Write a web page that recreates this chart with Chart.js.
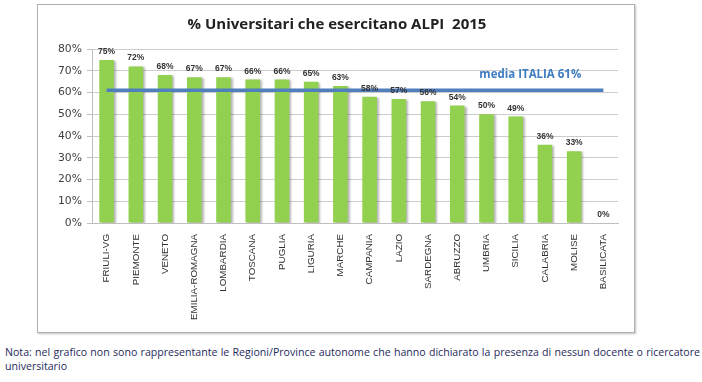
<!DOCTYPE html>
<html>
<head>
<meta charset="utf-8">
<script src="https://cdn.jsdelivr.net/npm/chart.js@4/dist/chart.umd.min.js"></script>
<style>
  html, body { margin:0; padding:0; background:#fff; width:702px; height:382px; overflow:hidden; }
  #frame { position:absolute; left:37px; top:4px; width:596px; height:327px; border:1px solid #b0b0b0; box-shadow:1px 1px 2px rgba(0,0,0,0.25); background:#fff; }
  #frame canvas { display:block; }
  #note { position:absolute; left:5px; top:345px; width:695px; font-family:"Open Sans", "Noto Sans", sans-serif; font-size:10.6px; line-height:14px; color:#1f2a5c; text-align:justify; text-align-last:left; }
</style>
</head>
<body>
<div id="frame"><canvas id="c" width="596" height="327"></canvas></div>
<div id="note">Nota: nel grafico non sono rappresentante le Regioni/Province autonome che hanno dichiarato la presenza di nessun docente o ricercatore universitario</div>
<script>
const chartTitle = "% Universitari che esercitano ALPI  2015";
const regions = ["FRIULI-VG","PIEMONTE","VENETO","EMILIA-ROMAGNA","LOMBARDIA","TOSCANA","PUGLIA","LIGURIA","MARCHE","CAMPANIA","LAZIO","SARDEGNA","ABRUZZO","UMBRIA","SICILIA","CALABRIA","MOLISE","BASILICATA"];
const shareALPI = [75,72,68,67,67,66,66,65,63,58,57,56,54,50,49,36,33,0];
const italyMean = 61;
const meanLabel = "media ITALIA 61%";
const yTicks = [0,10,20,30,40,50,60,70,80];

const meanSeries = regions.map(() => italyMean);

const labelsPlugin = {
  id: 'labelsPlugin',
  beforeDatasetDraw(chart, args) {
    if (args.index === 1) {
      const ctx = chart.ctx;
      ctx.save();
      ctx.shadowColor = 'rgba(0,0,0,0.28)';
      ctx.shadowOffsetX = 2;
      ctx.shadowOffsetY = 1;
      ctx.shadowBlur = 2;
    }
  },
  afterDatasetDraw(chart, args) {
    if (args.index === 1) chart.ctx.restore();
  },
  afterDraw(chart) {
    const ctx = chart.ctx;
    const meta = chart.getDatasetMeta(1);
    ctx.save();
    // title
    ctx.font = 'bold 15px "Open Sans", "Noto Sans", sans-serif';
    ctx.fillStyle = '#222';
    ctx.textAlign = 'center';
    ctx.textBaseline = 'middle';
    ctx.fillText(chartTitle, 299, 20);
    // data labels
    ctx.font = 'bold 8.5px "Liberation Sans", Arial, sans-serif';
    ctx.fillStyle = '#333';
    ctx.textBaseline = 'bottom';
    meta.data.forEach((bar, i) => {
      ctx.fillText(shareALPI[i] + '%', bar.x, bar.y - 4);
    });
    const ys = chart.scales.y;
    const xs = chart.scales.x;
    ctx.font = 'bold 11.5px "Open Sans", "Noto Sans", sans-serif';
    ctx.fillStyle = '#3f7cc0';
    ctx.textBaseline = 'middle';
    ctx.fillText(meanLabel, (xs.getPixelForValue(14) + xs.getPixelForValue(15)) / 2, ys.getPixelForValue(italyMean) - 15.5);
    ctx.restore();
  }
};

new Chart(document.getElementById('c'), {
  data: {
    labels: regions,
    datasets: [
      {
        type: 'line',
        data: meanSeries,
        borderColor: '#4f7fbd',
        borderWidth: 3.5,
        pointRadius: 0,
        order: 0
      },
      {
        type: 'bar',
        data: shareALPI,
        backgroundColor: '#92d050',
        borderWidth: 0,
        barPercentage: 0.5,
        categoryPercentage: 1.0,
        order: 1
      }
    ]
  },
  options: {
    responsive: false,
    animation: false,
    devicePixelRatio: 1,
    layout: { padding: { left: 0, right: 16, top: 44, bottom: 0 } },
    plugins: {
      legend: { display: false },
      tooltip: { enabled: false },
      title: { display: false }
    },
    scales: {
      x: {
        grid: { display: false },
        border: { color: '#bfbfbf' },
        ticks: {
          minRotation: 90, maxRotation: 90, autoSkip: false,
          color: '#333',
          padding: 3,
          font: { family: '"Liberation Sans", Arial, sans-serif', size: 9.8 }
        },
        afterFit(scale) { scale.height = 109; }
      },
      y: {
        min: 0, max: 80,
        afterBuildTicks(scale) { scale.ticks = yTicks.map(v => ({ value: v })); },
        grid: { color: '#cccccc', drawTicks: true, tickLength: 5, tickColor: '#bfbfbf' },
        border: { color: '#bfbfbf' },
        ticks: {
          color: '#404040',
          padding: 5,
          callback: v => v + '%',
          font: { family: '"DejaVu Sans", sans-serif', size: 10.8 }
        },
        afterFit(scale) { scale.width = 54; }
      }
    }
  },
  plugins: [labelsPlugin]
});
</script>
</body>
</html>
